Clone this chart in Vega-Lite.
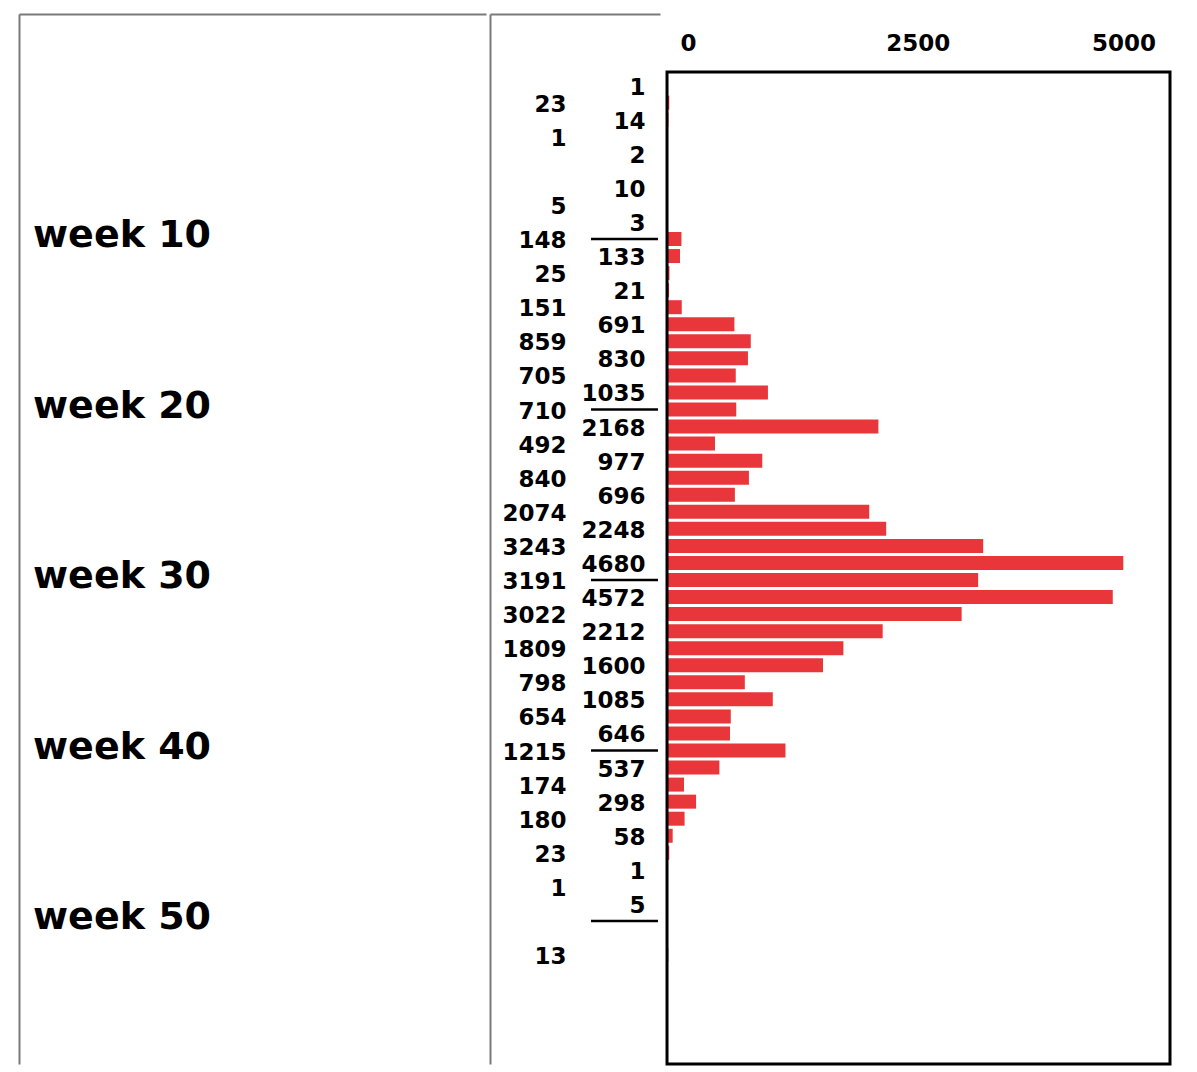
{
  "$schema": "https://vega.github.io/schema/vega-lite/v6.json",
  "background": "white",
  "padding": {"left": 19, "top": 14, "right": 0, "bottom": 0},
  "spacing": 4,
  "config": {"view": {"stroke": null}, "font": "DejaVu Sans", "scale": {"continuousPadding": 0}},
  "datasets": {
    "weekly": [
      {"week": 1, "cases": 1}, {"week": 2, "cases": 23}, {"week": 3, "cases": 14}, {"week": 4, "cases": 1},
      {"week": 5, "cases": 2}, {"week": 7, "cases": 10}, {"week": 8, "cases": 5}, {"week": 9, "cases": 3},
      {"week": 10, "cases": 148}, {"week": 11, "cases": 133}, {"week": 12, "cases": 25}, {"week": 13, "cases": 21},
      {"week": 14, "cases": 151}, {"week": 15, "cases": 691}, {"week": 16, "cases": 859}, {"week": 17, "cases": 830},
      {"week": 18, "cases": 705}, {"week": 19, "cases": 1035}, {"week": 20, "cases": 710}, {"week": 21, "cases": 2168},
      {"week": 22, "cases": 492}, {"week": 23, "cases": 977}, {"week": 24, "cases": 840}, {"week": 25, "cases": 696},
      {"week": 26, "cases": 2074}, {"week": 27, "cases": 2248}, {"week": 28, "cases": 3243}, {"week": 29, "cases": 4680},
      {"week": 30, "cases": 3191}, {"week": 31, "cases": 4572}, {"week": 32, "cases": 3022}, {"week": 33, "cases": 2212},
      {"week": 34, "cases": 1809}, {"week": 35, "cases": 1600}, {"week": 36, "cases": 798}, {"week": 37, "cases": 1085},
      {"week": 38, "cases": 654}, {"week": 39, "cases": 646}, {"week": 40, "cases": 1215}, {"week": 41, "cases": 537},
      {"week": 42, "cases": 174}, {"week": 43, "cases": 298}, {"week": 44, "cases": 180}, {"week": 45, "cases": 58},
      {"week": 46, "cases": 23}, {"week": 47, "cases": 1}, {"week": 48, "cases": 1}, {"week": 49, "cases": 5},
      {"week": 52, "cases": 13}
    ],
    "weeklabels": [
      {"label": "week 10", "week": 10}, {"label": "week 20", "week": 20}, {"label": "week 30", "week": 30},
      {"label": "week 40", "week": 40}, {"label": "week 50", "week": 50}
    ],
    "dividers": [{"week": 10}, {"week": 20}, {"week": 30}, {"week": 40}, {"week": 50}]
  },
  "hconcat": [
    {
      "width": 467,
      "height": 1050,
      "data": {"name": "weeklabels"},
      "mark": {"type": "text", "align": "left", "baseline": "alphabetic", "dx": 14, "dy": 8, "fontSize": 38, "fontWeight": "bold", "font": "DejaVu Sans", "color": "black"},
      "encoding": {
        "x": {"datum": 0, "type": "quantitative", "scale": {"domain": [0, 1], "nice": false, "padding": 0}, "axis": {"orient": "top", "labels": false, "ticks": false, "grid": false, "domain": true, "domainColor": "#7a7a7a", "domainWidth": 2, "title": null}},
        "y": {"field": "week", "type": "quantitative", "scale": {"domain": [-3.197, 58.387], "reverse": true, "nice": false, "zero": false, "padding": 0}, "axis": {"orient": "left", "labels": false, "ticks": false, "grid": false, "domain": true, "domainColor": "#7a7a7a", "domainWidth": 2, "title": null}},
        "text": {"field": "label", "type": "nominal"}
      }
    },
    {
      "width": 170,
      "height": 1050,
      "encoding": {
        "x": {"datum": "even", "type": "nominal", "scale": {"type": "point", "domain": ["even", "odd"], "padding": 0.576, "align": 0.61}, "axis": {"orient": "top", "labels": false, "ticks": false, "grid": false, "domain": true, "domainColor": "#7a7a7a", "domainWidth": 2, "title": null}},
        "y": {"field": "week", "type": "quantitative", "scale": {"domain": [-3.197, 58.387], "reverse": true, "nice": false, "zero": false, "padding": 0}, "axis": {"orient": "left", "labels": false, "ticks": false, "grid": false, "domain": true, "domainColor": "#7a7a7a", "domainWidth": 2, "title": null}}
      },
      "layer": [
        {
          "data": {"name": "weekly"},
          "transform": [{"filter": "datum.week % 2 == 0"}],
          "mark": {"type": "text", "align": "right", "baseline": "middle", "dx": 21, "dy": 2, "fontSize": 23, "fontWeight": "bold", "font": "DejaVu Sans", "color": "black"},
          "encoding": {"text": {"field": "cases", "type": "quantitative", "format": "d"}}
        },
        {
          "data": {"name": "weekly"},
          "transform": [{"filter": "datum.week % 2 == 1"}],
          "mark": {"type": "text", "align": "right", "baseline": "middle", "dx": 21, "dy": 2, "fontSize": 23, "fontWeight": "bold", "font": "DejaVu Sans", "color": "black"},
          "encoding": {"x": {"datum": "odd", "type": "nominal"}, "text": {"field": "cases", "type": "quantitative", "format": "d"}}
        },
        {
          "data": {"name": "dividers"},
          "mark": {"type": "tick", "size": 67, "thickness": 2.5, "color": "black", "opacity": 1},
          "encoding": {"x": {"datum": "odd", "type": "nominal"}}
        }
      ]
    },
    {
      "width": 506,
      "height": 1050,
      "layer": [
        {
          "data": {"name": "weekly"},
          "mark": {"type": "bar", "orient": "horizontal", "size": 14, "color": "#e8363b"},
          "encoding": {
            "x": {"field": "cases", "type": "quantitative", "scale": {"domain": [-31, 5159], "nice": false, "zero": false, "padding": 0},
              "axis": {"orient": "top", "offset": -58, "values": [0, 2500, 5000], "format": "d", "ticks": false, "tickSize": 0, "domain": false, "grid": false, "title": null,
                "labelFontSize": 23, "labelFontWeight": "bold", "labelFont": "DejaVu Sans", "labelColor": "black", "labelPadding": 22, "labelBaseline": "alphabetic", "labelAlign": "center",
                "labelOffset": {"expr": "datum.value == 0 ? 21 : datum.value == 2500 ? 7 : -31"}, "labelFlush": false, "labelOverlap": false}},
            "y": {"field": "week", "type": "quantitative", "scale": {"domain": [-3.197, 58.387], "reverse": true, "nice": false, "zero": false, "padding": 0}, "axis": null}
          }
        },
        {
          "data": {"values": [{}]},
          "mark": {"type": "rect", "fill": "white", "fillOpacity": 0, "stroke": "black", "strokeWidth": 3},
          "encoding": {
            "x": {"datum": 0, "type": "quantitative"},
            "x2": {"datum": 5159},
            "y": {"datum": 0.205, "type": "quantitative"},
            "y2": {"datum": 58.387}
          }
        }
      ]
    }
  ]
}
